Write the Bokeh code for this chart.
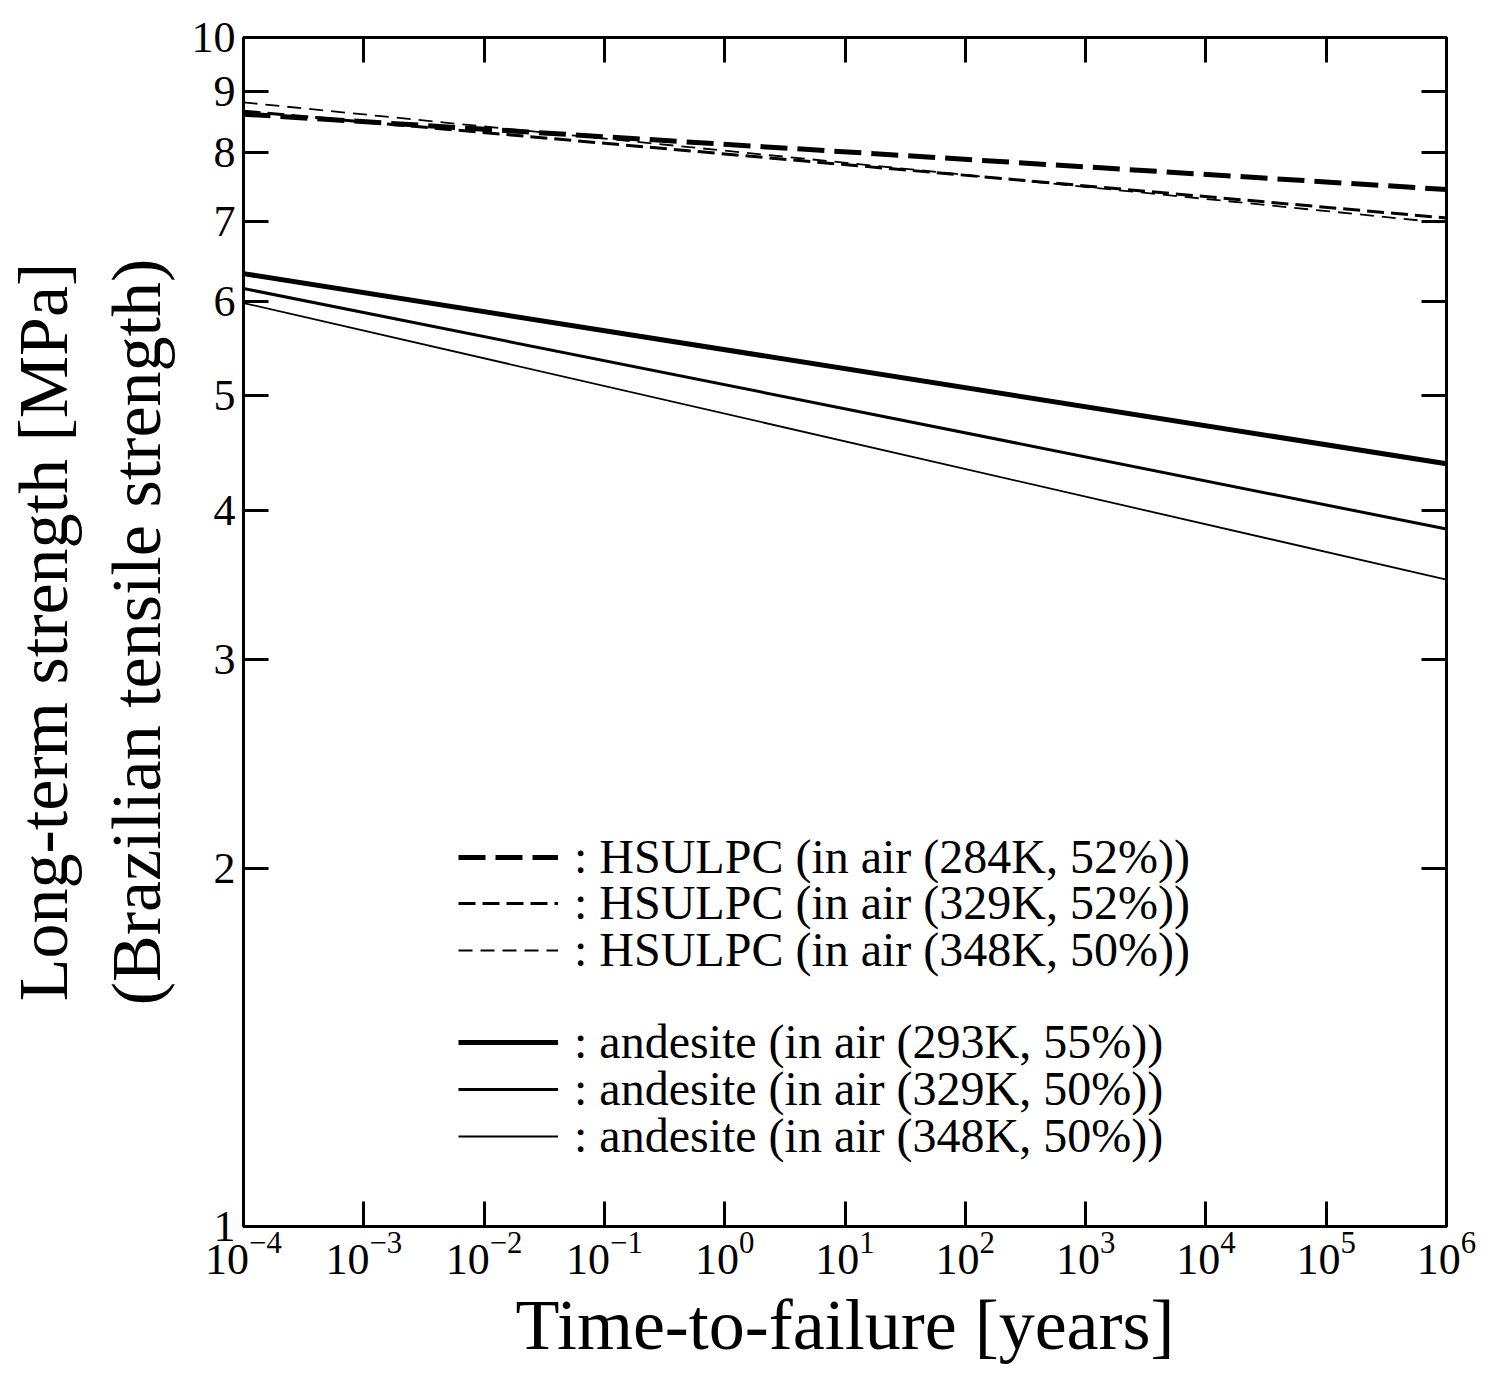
from bokeh.plotting import figure
from bokeh.models import (Legend, LegendItem, LogAxis, FixedTicker, PrintfTickFormatter)
from bokeh.embed import file_html
from bokeh.resources import INLINE

# ---- data ----
t_ends = [1e-4, 1e6]  # time-to-failure [years]
hs_284 = [8.62, 7.45]
hs_329 = [8.67, 7.05]
hs_348 = [8.82, 6.98]
an_293 = [6.33, 4.38]
an_329 = [6.15, 3.86]
an_348 = [5.98, 3.50]

labels = [": HSULPC (in air (284K, 52%))",
          ": HSULPC (in air (329K, 52%))",
          ": HSULPC (in air (348K, 50%))",
          ": andesite (in air (293K, 55%))",
          ": andesite (in air (329K, 50%))",
          ": andesite (in air (348K, 50%))"]

x_ticks = [1e-4, 1e-3, 1e-2, 1e-1, 1e0, 1e1, 1e2, 1e3, 1e4, 1e5, 1e6]
y_ticks = [1, 2, 3, 4, 5, 6, 7, 8, 9, 10]

FONT = "Liberation Serif"

p = figure(width=1501, height=1389, output_backend="svg", toolbar_location=None,
           x_axis_type="log", y_axis_type="log",
           x_range=(1e-4, 1e6), y_range=(1, 10),
           min_border_left=243, min_border_right=55, min_border_top=37, min_border_bottom=163)
p.background_fill_color = "white"
p.border_fill_color = "white"
p.outline_line_color = "black"
p.outline_line_width = 3
p.xgrid.visible = False
p.ygrid.visible = False

r1 = p.line(t_ends, hs_284, line_color="black", line_width=5, line_dash="27 10")
r2 = p.line(t_ends, hs_329, line_color="black", line_width=3, line_dash="17 7")
r3 = p.line(t_ends, hs_348, line_color="black", line_width=1.8, line_dash="14 8")
r4 = p.line(t_ends, an_293, line_color="black", line_width=5)
r5 = p.line(t_ends, an_329, line_color="black", line_width=3)
r6 = p.line(t_ends, an_348, line_color="black", line_width=1.8)
renderers = [r1, r2, r3, r4, r5, r6]

def style_axis(ax):
    ax.axis_line_color = "black"
    ax.axis_line_width = 3
    ax.major_tick_line_color = "black"
    ax.major_tick_line_width = 3
    ax.major_tick_in = 25
    ax.major_tick_out = 0
    ax.minor_tick_line_color = None
    ax.major_label_text_font = FONT
    ax.major_label_text_color = "black"
    ax.major_label_text_font_size = "44px"
    ax.axis_label_text_font = FONT
    ax.axis_label_text_font_style = "normal"
    ax.axis_label_text_color = "black"

xa = p.xaxis[0]
style_axis(xa)
xa.ticker = FixedTicker(ticks=x_ticks)
xa.major_label_standoff = 6
xa.axis_label = "Time-to-failure [years]"
xa.axis_label_text_font_size = "72px"
xa.axis_label_standoff = 8

ya = p.yaxis[0]
style_axis(ya)
ya.ticker = FixedTicker(ticks=y_ticks)
ya.formatter = PrintfTickFormatter(format="%d")
ya.major_label_standoff = 8
ya.axis_label = "Long-term strength [MPa]\n(Brazilian tensile strength)"
ya.axis_label_text_font_size = "70px"
ya.axis_label_standoff = 14

top = LogAxis(ticker=FixedTicker(ticks=x_ticks), formatter=PrintfTickFormatter(format="%d"))
style_axis(top)
top.major_label_text_font_size = "1px"
top.major_label_text_alpha = 0
p.add_layout(top, "above")
right = LogAxis(ticker=FixedTicker(ticks=y_ticks), formatter=PrintfTickFormatter(format="%d"))
style_axis(right)
right.major_label_text_font_size = "1px"
right.major_label_text_alpha = 0
p.add_layout(right, "right")

# one legend per row so that the row pitch matches the reference
row_offsets = [342, 296, 249, 157, 110, 63]  # px above the frame's bottom edge
for lab, rr, off in zip(labels, renderers, row_offsets):
    lg = Legend(items=[LegendItem(label=lab, renderers=[rr])], location=(215, off))
    lg.label_text_font = FONT
    lg.label_text_font_size = "48px"
    lg.label_text_color = "black"
    lg.glyph_width = 100
    lg.glyph_height = 30
    lg.label_standoff = 16
    lg.padding = 0
    lg.margin = 0
    lg.border_line_alpha = 0
    lg.background_fill_alpha = 0
    p.add_layout(lg, "center")

open("out.html", "w").write(file_html(p, INLINE))
